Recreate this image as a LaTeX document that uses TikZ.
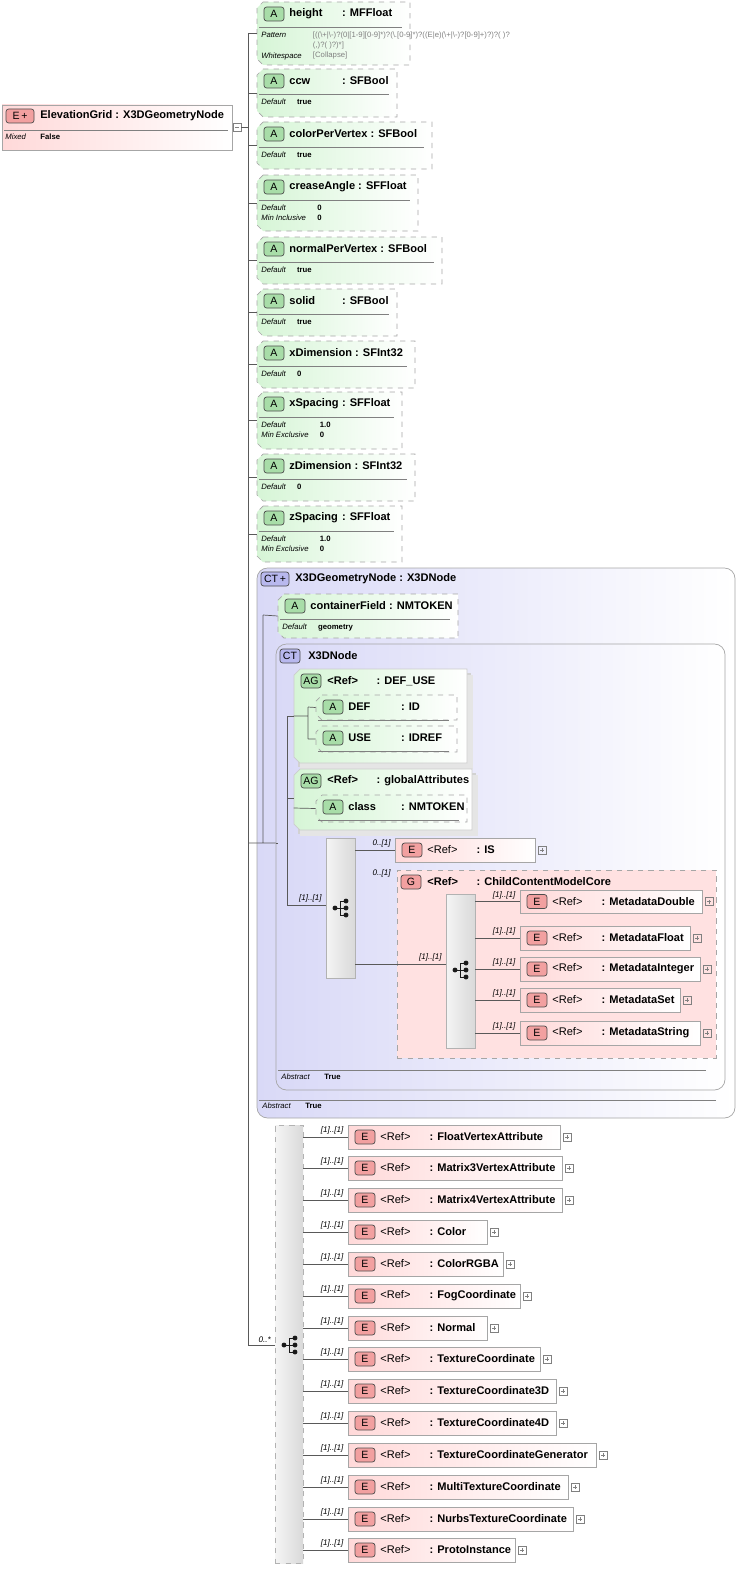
\documentclass[tikz,border=0pt]{standalone}
\usepackage{fontspec}
\setmainfont{Liberation Sans}
\usepackage{tikz}
\usetikzlibrary{fit}
\definecolor{pale-green}{HTML}{D6F5D6}
\definecolor{pale-pink}{HTML}{FFD9D9}
\definecolor{pale-blue}{HTML}{D9D9F7}
\definecolor{badge-red}{HTML}{F2A0A0}
\definecolor{badge-green}{HTML}{A8DDA8}
\definecolor{badge-blue}{HTML}{B8B8EE}
\tikzset{abox/.style = {draw=gray!70, dashed, left color=pale-green, right color=white}}
\tikzset{ebox/.style = {draw=gray!70, left color=pale-pink, right color=white}}
\tikzset{badge/.style = {draw=gray!60!black, rounded corners=1.5pt, minimum width=20*0.02cm, minimum height=14*0.02cm, inner sep=0, font=\fontsize{6}{7}\selectfont}}
\tikzset{ttl/.style = {font=\fontsize{6.3}{7.5}\selectfont\bfseries, inner sep=0}}
\tikzset{key/.style = {font=\fontsize{4.4}{5.6}\selectfont\itshape, inner sep=0, align=left, anchor=north west}}
\tikzset{val/.style = {font=\fontsize{4.4}{5.6}\selectfont\bfseries, inner sep=0, align=left, anchor=north west}}
\tikzset{card/.style = {font=\fontsize{4.6}{5.6}\selectfont\itshape, inner sep=0}}
\tikzset{wire/.style = {draw=gray!70!black, line width=0.4pt}}
\tikzset{seq/.style = {draw=gray!60, left color=gray!8, right color=gray!30}}
\newlength\nmw
\newcommand\nm[1]{\settowidth{\nmw}{#1}\ifdim\nmw<30pt\makebox[30pt][l]{#1}\else#1\ \fi}
\newcommand\rf{\makebox[28pt][l]{\textless Ref\textgreater}}
% attribute box: name, x1, y1, x2, y2, title, keys, values
\newcommand\attr[8]{%
  \node[fit={(#2,#3)(#4,#5)}, inner sep=0] (#1) {};
  \path[abox] (#2+6,#3) -- (#4,#3) -- (#4,#5) -- (#2+6,#5) -- (#2,#5-6) -- (#2,#3+6) -- cycle;
  \node[badge, fill=badge-green] at (#2+17,#3+12) {A};
  \node[ttl, anchor=west] at (#2+32,#3+12) {#6};
  \draw[gray] (#2+2,#3+25) -- (#4-8,#3+25);
  \node[key] (#1-k) at (#2+4,#3+30) {#7};
  \node[val] at ([xshift=6pt]#1-k.north east) {#8};
}
% element ref box: name, x1, y1, x2, y2, type
\newcommand\elem[6]{%
  \node[fit={(#2,#3)(#4,#5)}, inner sep=0, ebox] (#1) {};
  \node[badge, fill=badge-red] at (#2+17,{(#3)/2+(#5)/2}) {E};
  \node[ttl, anchor=west, font=\fontsize{6.3}{7.5}\selectfont] at (#2+32,{(#3)/2+(#5)/2}) {\rf\textbf{: #6}};
  \draw[gray] ([shift={(3,-4)}]#1.east) rectangle ([shift={(11,4)}]#1.east)
    ([shift={(5,0)}]#1.east) -- ([shift={(9,0)}]#1.east) ([shift={(7,-2)}]#1.east) -- ([shift={(7,2)}]#1.east);
}
\newcommand\seqicon[2]{%
  \fill[gray!20!black] (#1-5,#2) circle (1.4pt) (#1+6,#2-7) circle (1.4pt) (#1+6,#2) circle (1.4pt) (#1+6,#2+7) circle (1.4pt);
  \draw[gray!20!black] (#1-5,#2) -- (#1+6,#2) (#1,#2-7) -- (#1,#2+7) (#1,#2-7) -- (#1+6,#2-7) (#1,#2+7) -- (#1+6,#2+7);
}

\begin{document}
\begin{tikzpicture}[x=0.02cm, y=-0.02cm]
\useasboundingbox (0,0) rectangle (746,1585);

% root element
\node[fit={(2,105)(232,150)}, inner sep=0, ebox] (grid) {};
\node[badge, fill=badge-red, minimum width=28*0.02cm] at (20,116) {E\,+};
\node[ttl, anchor=west] at (40,116) {ElevationGrid : X3DGeometryNode};
\draw[gray] (4,130) -- (228,130);
\node[key] at (5,134) {Mixed};
\node[val] at (40,134) {False};
\draw[gray] (233,123) rectangle (241,131) (235,127) -- (239,127);
\coordinate (trunk) at (248,127);
\draw[wire] (241,127) -- (trunk);
\draw[wire] (248,33) -- (248,1345);

% attributes
\attr{height}{257}{2}{410}{65}{\nm{height}: MFFloat}{Pattern\\[6pt]Whitespace}{\textmd{\color{gray}[((\textbackslash+|\textbackslash-)?(0|[1-9][0-9]*)?(\textbackslash.[0-9]*)?((E|e)(\textbackslash+|\textbackslash-)?[0-9]+)?)?( )?}\\\textmd{\color{gray}(,)?( )?)*]}\\\textmd{\color{gray}[Collapse]}}
\attr{ccw}{257}{69}{397}{117}{\nm{ccw}: SFBool}{Default}{true}
\attr{cpv}{257}{122}{432}{169}{\nm{colorPerVertex}: SFBool}{Default}{true}
\attr{crease}{257}{175}{418}{231}{\nm{creaseAngle}: SFFloat}{Default\\Min Inclusive}{0\\0}
\attr{npv}{257}{237}{442}{284}{\nm{normalPerVertex}: SFBool}{Default}{true}
\attr{solid}{257}{289}{397}{336}{\nm{solid}: SFBool}{Default}{true}
\attr{xdim}{257}{341}{415}{388}{\nm{xDimension}: SFInt32}{Default}{0}
\attr{xsp}{257}{392}{402}{449}{\nm{xSpacing}: SFFloat}{Default\\Min Exclusive}{1.0\\0}
\attr{zdim}{257}{454}{415}{501}{\nm{zDimension}: SFInt32}{Default}{0}
\attr{zsp}{257}{506}{402}{562}{\nm{zSpacing}: SFFloat}{Default\\Min Exclusive}{1.0\\0}
\foreach \n in {height,ccw,cpv,crease,npv,solid,xdim,xsp,zdim,zsp}
  \draw[wire] (\n.west) -- (\n.west -| trunk);

% complex type X3DGeometryNode
\node[fit={(257,568)(735,1118)}, inner sep=0, draw=gray!70, rounded corners=6pt, left color=pale-blue, right color=white] (geom) {};
\node[badge, fill=badge-blue, minimum width=28*0.02cm] at (275,579) {CT\,+};
\node[ttl, anchor=west] at (295,579) {X3DGeometryNode : X3DNode};
\draw[gray] (259,1100) -- (716,1100);
\node[key] at (262,1103) {Abstract};
\node[val] at (305,1103) {True};
\attr{cfield}{278}{594}{458}{638}{\nm{containerField}: NMTOKEN}{Default}{geometry}

% complex type X3DNode
\node[fit={(276,644)(725,1090)}, inner sep=0, draw=gray!70, rounded corners=6pt, left color=pale-blue, right color=white] (node) {};
\node[badge, fill=badge-blue] at (290,656) {CT};
\node[ttl, anchor=west] at (308,656) {X3DNode};
\draw[gray] (278,1070) -- (706,1070);
\node[key] at (281,1074) {Abstract};
\node[val] at (324,1074) {True};

% attribute groups
\fill[gray!35] (298,673) rectangle (471,767);
\fill[gray!20] (300,675) rectangle (473,769);
\path[abox, solid, draw=gray!40] (300,669) -- (467,669) -- (467,763) -- (300,763) -- (294,757) -- (294,675) -- cycle;
\node[fit={(294,669)(467,763)}, inner sep=0] (defuse) {};
\node[badge, fill=badge-green] at (311,681) {AG};
\node[ttl, anchor=west] at (327,681) {\rf: DEF\_USE};
\attr{def}{316}{695}{457}{720}{\nm{DEF}: ID}{}{}
\attr{use}{316}{726}{457}{752}{\nm{USE}: IDREF}{}{}
\fill[gray!35] (298,773) rectangle (476,834);
\fill[gray!20] (300,775) rectangle (478,836);
\path[abox, solid, draw=gray!40] (300,769) -- (472,769) -- (472,830) -- (300,830) -- (294,824) -- (294,775) -- cycle;
\node[fit={(294,769)(472,830)}, inner sep=0] (glob) {};
\node[badge, fill=badge-green] at (311,781) {AG};
\node[ttl, anchor=west] at (327,781) {\rf: globalAttributes};
\attr{class}{316}{795}{467}{822}{\nm{class}: NMTOKEN}{}{}

% sequences
\node[fit={(326,838)(355,978)}, inner sep=0, seq] (seqa) {};
\seqicon{340}{908}
\elem{is}{395}{838}{535}{862}{IS}
\path[draw=gray!70, dashed] (395,838) rectangle (535,862);
\node[fit={(397,870)(716,1058)}, inner sep=0, draw=gray!70, dashed, fill=pale-pink!80] (ccm) {};
\node[badge, fill=badge-red] at (411,882) {G};
\node[ttl, anchor=west] at (427,882) {\rf: ChildContentModelCore};
\node[fit={(446,894)(475,1048)}, inner sep=0, seq] (seqb) {};
\seqicon{460}{970}
\elem{mdd}{520}{890}{702}{913}{MetadataDouble}
\elem{mdf}{520}{926}{690}{950}{MetadataFloat}
\elem{mdi}{520}{957}{700}{981}{MetadataInteger}
\elem{mds}{520}{988}{680}{1012}{MetadataSet}
\elem{mdstr}{520}{1021}{700}{1045}{MetadataString}

% wiring inside the complex types
\coordinate (ct) at (263,843);
\draw[wire] (trunk |- ct) -- (ct) (263,615) -- (ct) (263,615) -- (cfield.west) (ct) -- (node.west |- ct);
\coordinate (inner) at (287,905);
\draw[wire] (node.west |- ct) -- (278,843) (287,716) -- (inner) (287,716) -- (defuse.west |- 716,716) (287,798) -- (glob.west |- 287,798) (inner) -- (seqa.west |- inner);
\draw[wire] (308,707) -- (308,739) (defuse.west |- 308,716) -- (308,716) (308,707) -- (def.west) (308,739) -- (use.west);
\draw[wire] (glob.west |- 308,808) -- (class.west);
\node[card, anchor=south east] at (322,903) {[1]..[1]};
\draw[wire] (seqa.east |- is.west) -- (is.west);
\node[card, anchor=south east] at (391,848) {0..[1]};
\node[card, anchor=south east] at (391,878) {0..[1]};
\draw[wire] (seqa.east |- 0,964) -- (ccm.west |- 0,964) -- (seqb.west |- 0,964);
\node[card, anchor=south east] at (442,962) {[1]..[1]};
\foreach \n in {mdd,mdf,mdi,mds,mdstr} {
  \draw[wire] (seqb.east |- \n.west) -- (\n.west);
  \node[card, anchor=south east] at ([shift={(-4,-2)}]\n.west) {[1]..[1]};
}

% choice of vertex attributes
\node[fit={(275,1125)(303,1563)}, inner sep=0, seq, dashed] (choice) {};
\seqicon{289}{1345}
\draw[wire] (trunk |- 0,1345) -- (choice.west |- 0,1345);
\node[card, anchor=south east] at (271,1343) {0..*};
\foreach \n/\yy/\xr/\t in {fva/1125/560/FloatVertexAttribute, m3/1156/562/Matrix3VertexAttribute,
  m4/1188/562/Matrix4VertexAttribute, col/1220/487/Color, rgba/1252/503/ColorRGBA,
  fog/1284/520/FogCoordinate, nrm/1316/487/Normal, tc/1347/540/TextureCoordinate,
  tc3/1379/556/TextureCoordinate3D, tc4/1411/556/TextureCoordinate4D,
  tcg/1443/596/TextureCoordinateGenerator, mtc/1475/568/MultiTextureCoordinate,
  ntc/1507/573/NurbsTextureCoordinate, proto/1538/515/ProtoInstance} {
  \elem{\n}{348}{\yy}{\xr}{\yy+24}{\t}
  \draw[wire] (choice.east |- \n.west) -- (\n.west);
  \node[card, anchor=south east] at ([shift={(-4,-2)}]\n.west) {[1]..[1]};
}
\end{tikzpicture}
\end{document}
